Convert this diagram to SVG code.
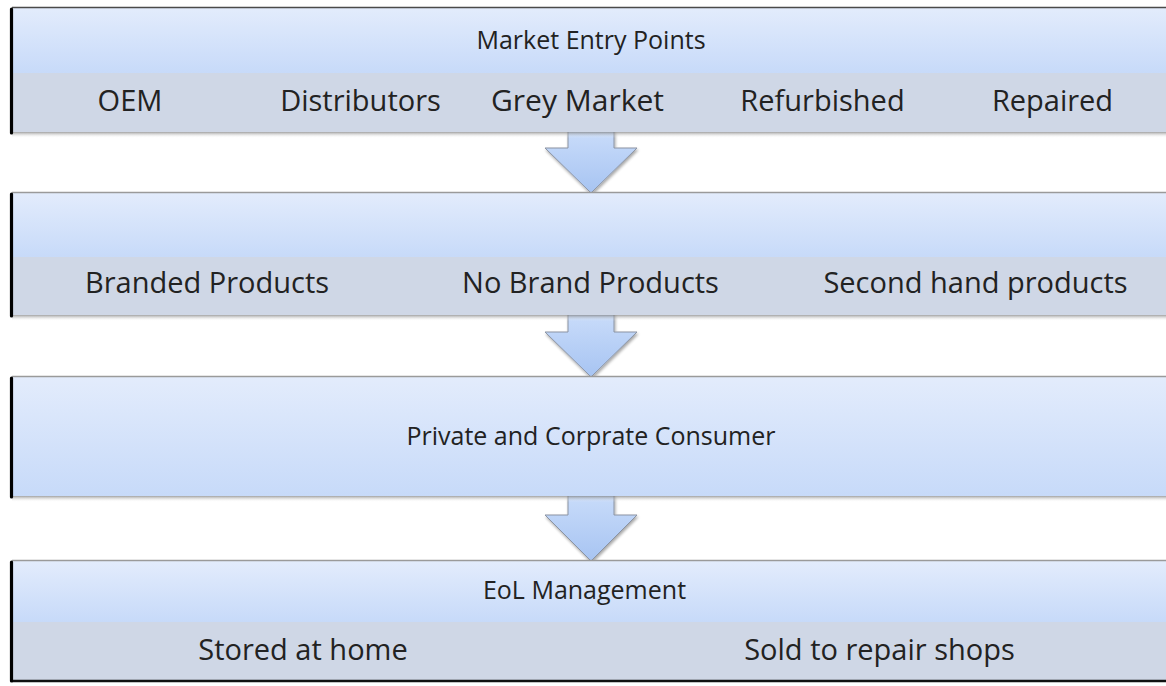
<svg xmlns="http://www.w3.org/2000/svg" width="1166" height="686" viewBox="0 0 1166 686">
  <defs>
    <linearGradient id="light" x1="0" y1="0" x2="0" y2="1">
      <stop offset="0" stop-color="#e3ecfc"/>
      <stop offset="1" stop-color="#c7daf9"/>
    </linearGradient>
    <linearGradient id="arrowFill" x1="0" y1="0" x2="0" y2="1">
      <stop offset="0" stop-color="#c9dcfa"/>
      <stop offset="1" stop-color="#a7c4f2"/>
    </linearGradient>
    <linearGradient id="shadow" x1="0" y1="0" x2="0" y2="1">
      <stop offset="0" stop-color="#7a7a7a" stop-opacity="0.7"/>
      <stop offset="1" stop-color="#ffffff" stop-opacity="0"/>
    </linearGradient>
    <filter id="ashadow" x="-20%" y="-20%" width="140%" height="150%">
      <feGaussianBlur in="SourceAlpha" stdDeviation="1.5"/>
      <feOffset dx="1" dy="2" result="b"/>
      <feComponentTransfer><feFuncA type="linear" slope="0.35"/></feComponentTransfer>
      <feMerge><feMergeNode/><feMergeNode in="SourceGraphic"/></feMerge>
    </filter>
  </defs>
  <style>
    .light { fill: url(#light); }
    .grey { fill: #cfd7e6; }
    .shadow { fill: url(#shadow); }
    .topline { stroke: #9a9a9a; stroke-width: 1.5; }
    .leftbar { stroke: #000; stroke-width: 3.2; stroke-linecap: round; }
    .arrow { fill: url(#arrowFill); stroke: #8a93a3; stroke-width: 1; filter: url(#ashadow); }
    .lbl { font-family: "Open Sans", "Liberation Sans", sans-serif; fill: #222; text-anchor: middle; }
    .big { font-size: 29px; }
    .small { font-size: 25px; }
  </style>
  <rect width="1166" height="686" fill="#ffffff"/>

  <g id="connectors">
    <path class="arrow" d="M568,130 L614,130 L614,148 L637,148 L591,193 L545,148 L568,148 Z"/>
    <path class="arrow" d="M568,313 L614,313 L614,332 L637,332 L591,377 L545,332 L568,332 Z"/>
    <path class="arrow" d="M568,494 L614,494 L614,515 L637,515 L591,561 L545,515 L568,515 Z"/>
  </g>

  <g id="node-market-entry">
    <rect class="shadow" x="12" y="132" width="1154" height="6"/>
    <rect class="light" x="12" y="7" width="1154" height="66"/>
    <rect class="grey" x="12" y="73" width="1154" height="59"/>
    <line x1="12" y1="7.5" x2="1166" y2="7.5" stroke="#4a4a4a" stroke-width="1.5"/>
    <line class="leftbar" x1="11.5" y1="9" x2="11.5" y2="133"/>
    <text class="lbl small" x="591" y="49">Market Entry Points</text>
    <text class="lbl big" x="130" y="111">OEM</text>
    <text class="lbl big" x="360.5" y="111">Distributors</text>
    <text class="lbl big" x="577.5" y="111" style="font-size:30px">Grey Market</text>
    <text class="lbl big" x="822.5" y="111">Refurbished</text>
    <text class="lbl big" x="1052.5" y="111">Repaired</text>
  </g>

  <g id="node-products">
    <rect class="shadow" x="12" y="315" width="1154" height="6"/>
    <rect class="light" x="12" y="192" width="1154" height="65"/>
    <rect class="grey" x="12" y="257" width="1154" height="58"/>
    <line class="topline" x1="12" y1="192.5" x2="1166" y2="192.5"/>
    <line class="leftbar" x1="11.5" y1="194" x2="11.5" y2="316"/>
    <text class="lbl big" x="207" y="293">Branded Products</text>
    <text class="lbl big" x="590.5" y="293">No Brand Products</text>
    <text class="lbl big" x="975.5" y="293">Second hand products</text>
  </g>

  <g id="node-consumer">
    <rect class="shadow" x="12" y="496" width="1154" height="6"/>
    <rect class="light" x="12" y="376" width="1154" height="120"/>
    <line class="topline" x1="12" y1="376.5" x2="1166" y2="376.5"/>
    <line class="leftbar" x1="11.5" y1="378" x2="11.5" y2="497"/>
    <text class="lbl small" x="591" y="445">Private and Corprate Consumer</text>
  </g>

  <g id="node-eol">
    <rect class="light" x="12" y="560" width="1154" height="62"/>
    <rect class="grey" x="12" y="622" width="1154" height="58"/>
    <line class="topline" x1="12" y1="560.5" x2="1166" y2="560.5"/>
    <line x1="12" y1="681" x2="1166" y2="681" stroke="#111" stroke-width="2.5"/>
    <line class="leftbar" x1="11.5" y1="562" x2="11.5" y2="681"/>
    <text class="lbl small" x="584.5" y="599">EoL Management</text>
    <text class="lbl big" x="303" y="660">Stored at home</text>
    <text class="lbl big" x="879.5" y="660">Sold to repair shops</text>
  </g>
</svg>
